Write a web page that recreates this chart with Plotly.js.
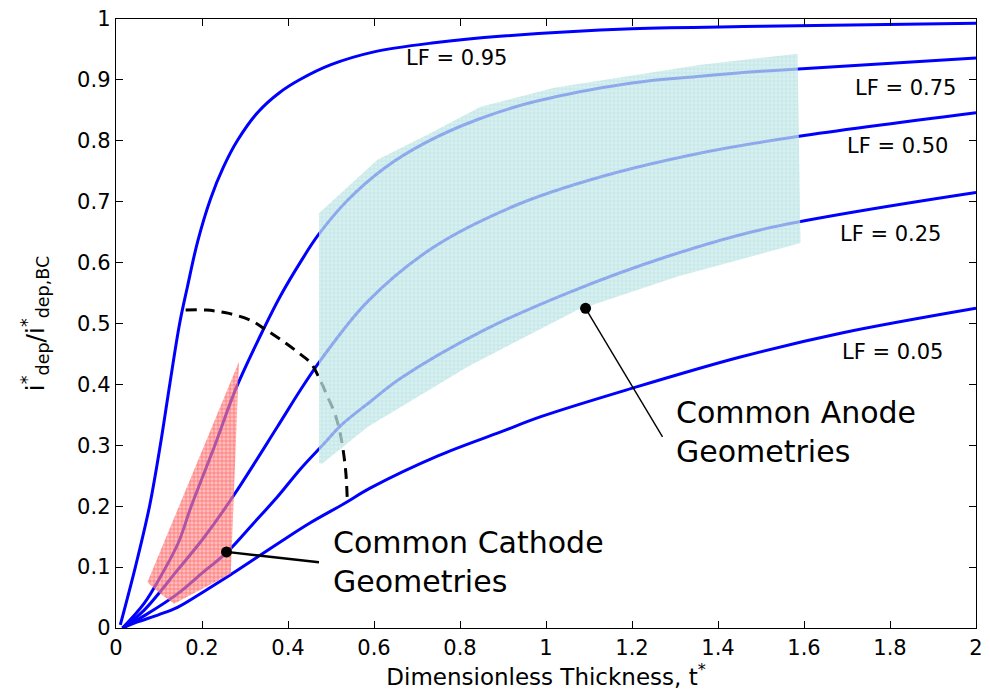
<!DOCTYPE html>
<html><head><meta charset="utf-8">
<script src="https://cdn.plot.ly/plotly-3.0.1.min.js"></script>
<style>html,body{margin:0;padding:0;background:#fff}</style>
</head><body><div id="chart" style="width:990px;height:698px"></div>
<script>
// LF curves: dimensionless thickness t* vs i*dep/i*dep,BC
const lf95X = [0.01, 0.045, 0.078, 0.103, 0.125, 0.148, 0.166, 0.19, 0.22, 0.25, 0.282, 0.33, 0.38, 0.429, 0.5, 0.6, 0.74, 0.9, 1.2, 1.5, 2.0];
const lf95Y = [0.005, 0.1, 0.2, 0.3, 0.4, 0.5, 0.56, 0.635, 0.705, 0.757, 0.8, 0.847, 0.879, 0.901, 0.925, 0.946, 0.961, 0.972, 0.984, 0.988, 0.993];
const lf75X = [0.015, 0.065, 0.104, 0.145, 0.175, 0.23, 0.28, 0.344, 0.383, 0.43, 0.47, 0.538, 0.624, 0.72, 0.841, 0.972, 1.2, 1.36, 1.5, 2.0];
const lf75Y = [0, 0.04, 0.085, 0.14, 0.2, 0.3, 0.395, 0.492, 0.546, 0.602, 0.645, 0.702, 0.755, 0.797, 0.835, 0.864, 0.895, 0.906, 0.914, 0.936];
const lf50X = [0.015, 0.065, 0.143, 0.205, 0.274, 0.375, 0.43, 0.476, 0.585, 0.74, 0.933, 1.128, 1.36, 1.585, 2.0];
const lf50Y = [0, 0.029, 0.095, 0.149, 0.218, 0.33, 0.392, 0.44, 0.536, 0.626, 0.695, 0.741, 0.78, 0.807, 0.846];
const lf25X = [0.015, 0.07, 0.143, 0.2, 0.259, 0.32, 0.375, 0.43, 0.484, 0.522, 0.592, 0.662, 0.856, 1.05, 1.282, 1.5, 2.0];
const lf25Y = [0, 0.022, 0.056, 0.09, 0.125, 0.172, 0.215, 0.262, 0.303, 0.332, 0.372, 0.41, 0.489, 0.55, 0.61, 0.654, 0.715];
const lf05X = [0.015, 0.05, 0.1, 0.143, 0.2, 0.259, 0.375, 0.45, 0.53, 0.592, 0.75, 0.895, 0.988, 1.197, 1.452, 1.685, 2.0];
const lf05Y = [0, 0.01, 0.022, 0.034, 0.058, 0.084, 0.138, 0.172, 0.204, 0.23, 0.283, 0.322, 0.347, 0.393, 0.445, 0.484, 0.525];

// dashed boundary curve
const arcX = [0.162, 0.21, 0.26, 0.314, 0.344, 0.39, 0.43, 0.453, 0.476, 0.492, 0.51, 0.523, 0.534, 0.538];
const arcY = [0.522, 0.522, 0.517, 0.505, 0.492, 0.47, 0.449, 0.435, 0.405, 0.38, 0.35, 0.314, 0.259, 0.207];

// shaded regions
const anodeX = [0.472, 0.472, 0.608, 0.724, 0.848, 1.019, 1.36, 1.585, 1.592, 1.306, 1.073, 0.82, 0.585, 0.48, 0.472];
const anodeY = [0.27, 0.681, 0.769, 0.81, 0.856, 0.887, 0.925, 0.943, 0.632, 0.577, 0.522, 0.43, 0.33, 0.27, 0.27];
const cathodeX = [0.073, 0.286, 0.267, 0.135, 0.1, 0.073];
const cathodeY = [0.075, 0.437, 0.089, 0.04, 0.058, 0.075];

// callout leader lines (dot end first)
const cathodeLeadX = [0.257, 0.472];
const cathodeLeadY = [0.125, 0.108];
const anodeLeadX = [1.092, 1.271];
const anodeLeadY = [0.525, 0.314];

// labels
const lfLabels = ['LF = 0.95', 'LF = 0.75', 'LF = 0.50', 'LF = 0.25', 'LF = 0.05'];
const lfLabelX = [0.791, 1.836, 1.818, 1.802, 1.806];
const lfLabelY = [0.936, 0.886, 0.792, 0.647, 0.454];

const FONT = 'DejaVu Sans, Arial, sans-serif';
const blueLine = {color: '#0000ff', width: 3, shape: 'spline', smoothing: 1};
function curve(x, y) { return {x, y, type: 'scatter', mode: 'lines', line: blueLine, hoverinfo: 'skip'}; }

const traces = [
  curve(lf95X, lf95Y), curve(lf75X, lf75Y), curve(lf50X, lf50Y), curve(lf25X, lf25Y), curve(lf05X, lf05Y),
  {x: arcX, y: arcY, type: 'scatter', mode: 'lines', line: {color: '#000', width: 3, dash: '11px,7px', shape: 'spline'}},
  {x: anodeX, y: anodeY, type: 'scatter', mode: 'none', fill: 'toself',
   fillcolor: 'rgba(190,228,228,0.72)',
   fillpattern: {shape: '+', size: 4, solidity: 0.15, fgcolor: 'rgba(150,205,205,0.8)', bgcolor: 'rgba(200,234,234,0.7)'}},
  {x: cathodeX, y: cathodeY, type: 'scatter', mode: 'none', fill: 'toself',
   fillcolor: 'rgba(255,130,130,0.6)',
   fillpattern: {shape: '+', size: 4, solidity: 0.25, fgcolor: 'rgba(255,40,40,0.7)', bgcolor: 'rgba(255,150,150,0.62)'}},
  {x: cathodeLeadX, y: cathodeLeadY, type: 'scatter', mode: 'lines', line: {color: '#000', width: 2.5}},
  {x: anodeLeadX, y: anodeLeadY, type: 'scatter', mode: 'lines', line: {color: '#000', width: 1.4}},
  {x: [cathodeLeadX[0], anodeLeadX[0]], y: [cathodeLeadY[0], anodeLeadY[0]], type: 'scatter', mode: 'markers',
   marker: {color: '#000', size: 11}}
];

const annotations = lfLabels.map((t, i) => ({
  x: lfLabelX[i], y: lfLabelY[i], xref: 'x', yref: 'y', text: t, showarrow: false,
  xanchor: 'center', yanchor: 'middle', font: {family: FONT, size: 21, color: '#000'}
}));
annotations.push({x: 0.5, y: 0.108, xref: 'x', yref: 'y', text: 'Common Cathode<br>Geometries', showarrow: false,
  xanchor: 'left', yanchor: 'middle', align: 'left', font: {family: FONT, size: 30, color: '#000'}});
annotations.push({x: 1.298, y: 0.3215, xref: 'x', yref: 'y', text: 'Common Anode<br>Geometries', showarrow: false,
  xanchor: 'left', yanchor: 'middle', align: 'left', font: {family: FONT, size: 30, color: '#000'}});

const axisCommon = {
  showline: true, linecolor: '#000', linewidth: 1.3, mirror: 'ticks', ticks: 'inside', ticklen: 7,
  tickcolor: '#000', tickwidth: 1, showgrid: false, zeroline: false,
  tickfont: {family: FONT, size: 21, color: '#000'}
};

const layout = {
  width: 990, height: 698,
  margin: {l: 116, r: 14, t: 19, b: 70},
  paper_bgcolor: '#fff', plot_bgcolor: '#fff',
  showlegend: false,
  xaxis: Object.assign({}, axisCommon, {range: [0, 2], dtick: 0.2, tick0: 0,
    title: {text: 'Dimensionless Thickness, t<sup>*</sup>', font: {family: FONT, size: 23, color: '#000'}, standoff: 10}}),
  yaxis: Object.assign({}, axisCommon, {range: [0, 1], dtick: 0.1, tick0: 0,
    title: {text: 'i<sup>*</sup><sub>dep</sub>/i<sup>*</sup><sub>dep,BC</sub>', font: {family: FONT, size: 25, color: '#000'}, standoff: 25}}),
  annotations
};

Plotly.newPlot('chart', traces, layout, {displayModeBar: false, staticPlot: true});
</script>
</body></html>
